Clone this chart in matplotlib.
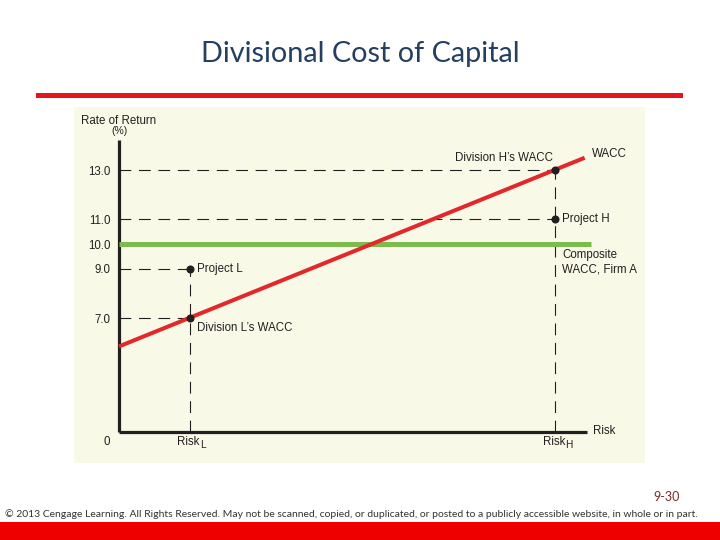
import matplotlib.pyplot as plt
from matplotlib.patches import Rectangle

plt.rcParams['lines.scale_dashes'] = False

# risk positions (arbitrary units along the risk axis)
risk_L = 1.52
risk_H = 9.32
risk_max = 10.0

# rates of return (%)
ytick_vals = [7.0, 9.0, 10.0, 11.0, 13.0]
ytick_labels = ['7.0', '9.0', '10.0', '11.0', '13.0']
div_L_wacc = 7.0
project_L = 9.0
composite_wacc = 10.0
project_H = 11.0
div_H_wacc = 13.0

# WACC line endpoints
wacc_x = [0.0, 9.95]
wacc_y = [5.85, 13.5]
green_x = [0.0, 10.08]

y_lo, y_hi = 2.38, 14.22

W, H = 720, 540
fig = plt.figure(figsize=(7.2, 5.4), dpi=100)

def fx(px):
    return px / W

def fy(py):
    return 1 - py / H

# slide decorations
fig.text(0.5, fy(54), 'Divisional Cost of Capital', ha='center', va='center',
         fontsize=20.8, color='#243f60', family='Lato')
fig.add_artist(Rectangle((fx(36), fy(98)), fx(683) - fx(36), 5 / H,
                         transform=fig.transFigure, color='#e8131b', lw=0))
fig.add_artist(Rectangle((fx(74), fy(463)), fx(645) - fx(74), (463 - 107) / H,
                         transform=fig.transFigure, color='#f9f9e7', lw=0, zorder=0))
fig.add_artist(Rectangle((0, 0), 1, 18 / H, transform=fig.transFigure,
                         color='#ee0000', lw=0))
fig.text(fx(680), fy(497), '9-30', ha='right', va='center', fontsize=9,
         color='#7a2a2a', family='Lato')
fig.text(fx(5), fy(514), '\u00a9 2013 Cengage Learning. All Rights Reserved. May not be scanned, copied, '
         'or duplicated, or posted to a publicly accessible website, in whole or in part.',
         ha='left', va='center', fontsize=7.45, color='#333333', family='Lato')

ax = fig.add_axes([fx(119), fy(432), fx(587) - fx(119), (432 - 140) / H])
ax.set_facecolor('none')
ax.set_xlim(0, risk_max)
ax.set_ylim(y_lo, y_hi)
for s in ['top', 'right']:
    ax.spines[s].set_visible(False)
for s in ['left', 'bottom']:
    ax.spines[s].set_linewidth(2.3)
    ax.spines[s].set_color('#231f20')
    ax.spines[s].set_capstyle('butt')

font = 'Liberation Sans'
fs = 8.3
txt = '#231f20'

ax.set_yticks(ytick_vals)
ax.set_yticklabels(ytick_labels, fontsize=fs, family=font, color=txt)
ax.set_xticks([])
ax.tick_params(axis='both', length=0)
ax.tick_params(axis='y', pad=6)

dash = dict(color='#231f20', lw=0.8, linestyle=(0, (8.5, 5.5)), zorder=2)
ax.plot([0, risk_H], [div_H_wacc, div_H_wacc], **dash)
ax.plot([0, risk_H], [project_H, project_H], **dash)
ax.plot([0, risk_L], [project_L, project_L], **dash)
ax.plot([0, risk_L], [div_L_wacc, div_L_wacc], **dash)
ax.plot([risk_L, risk_L], [y_lo, project_L], **dash)
ax.plot([risk_H, risk_H], [y_lo, div_H_wacc], **dash)

ax.plot(green_x, [composite_wacc, composite_wacc], color='#7cbb4e', lw=3.6,
        solid_capstyle='butt', clip_on=False, zorder=3)
ax.plot(wacc_x, wacc_y, color='#e2282a', lw=2.9, solid_capstyle='butt',
        clip_on=False, zorder=4)

ax.plot([risk_L, risk_L, risk_H, risk_H], [project_L, div_L_wacc, div_H_wacc, project_H],
        'o', color='#231f20', ms=4.8, zorder=5, clip_on=False)

kw = dict(fontsize=fs, family=font, color=txt, textcoords='offset points',
          annotation_clip=False)
ax.annotate('Project L', (risk_L, project_L), xytext=(5, 0), ha='left', va='center', **kw)
ax.annotate("Division L\u2019s WACC", (risk_L, div_L_wacc), xytext=(5, -7.5),
            ha='left', va='center', **kw)
ax.annotate('Project H', (risk_H, project_H), xytext=(5, 0), ha='left', va='center', **kw)
ax.annotate("Division H\u2019s WACC", (risk_H, div_H_wacc), xytext=(-1.5, 8.5),
            ha='right', va='center', **kw)
ax.annotate('Composite\nWACC, Firm A', (risk_H, composite_wacc), xytext=(5, -3.5),
            ha='left', va='top', linespacing=1.25, **kw)
ax.annotate('WACC', (wacc_x[1], wacc_y[1]), xytext=(5, 2.5), ha='left', va='center', **kw)
ax.annotate('Risk', (risk_max, y_lo), xytext=(4.5, 1), ha='left', va='center', **kw)
ax.annotate('0', (0, y_lo), xytext=(-8.5, -7), ha='center', va='center', **kw)
ax.annotate('Rate of Return', (0, y_hi), xytext=(0, 14), ha='center', va='center', **kw)
ax.annotate('(%)', (0, y_hi), xytext=(0, 6.5), ha='center', va='center',
            **{**kw, 'fontsize': 7.5})

# risk labels with near full-size subscripts
for rx, sub in [(risk_L, 'L'), (risk_H, 'H')]:
    ax.annotate('Risk', (rx, y_lo), xytext=(7, -7), ha='right', va='center', **kw)
    ax.annotate(sub, (rx, y_lo), xytext=(7.3, -9), ha='left', va='center',
                **{**kw, 'fontsize': 7.3})

fig.savefig('out.png', dpi=100)
